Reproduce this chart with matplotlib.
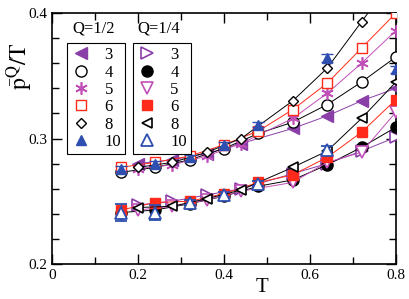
import numpy as np
import matplotlib.pyplot as plt
from matplotlib.lines import Line2D

plt.rcParams['font.family'] = ['Liberation Serif', 'DejaVu Serif']
plt.rcParams['mathtext.fontset'] = 'stix'

# Q=1/2 (upper branch)
T_a = [0.20, 0.28, 0.36, 0.44, 0.56, 0.64, 0.72, 0.80]
T_b = [0.16, 0.24, 0.32, 0.40, 0.48, 0.56, 0.64, 0.72, 0.80]
T_c = [0.16, 0.24, 0.32, 0.40, 0.48, 0.64, 0.80]

h3 = [0.280, 0.283, 0.288, 0.296, 0.308, 0.318, 0.330, 0.340]
h4 = [0.273, 0.277, 0.283, 0.292, 0.304, 0.313, 0.327, 0.345, 0.365]
h5 = [0.276, 0.279, 0.286, 0.296, 0.316, 0.336, 0.360, 0.386]
h6 = [0.277, 0.281, 0.286, 0.295, 0.306, 0.323, 0.344, 0.372, 0.400]
h8 = [0.277, 0.281, 0.289, 0.300, 0.330, 0.356, 0.393, 0.430]
h10 = [0.276, 0.280, 0.285, 0.295, 0.311, 0.364, 0.355]
h10_err = [0.002, 0.002, 0.002, 0.002, 0.002, 0.003, 0.003]

# Q=1/4 (lower branch)
q3 = [0.247, 0.250, 0.255, 0.260, 0.272, 0.280, 0.290, 0.301]
q4 = [0.241, 0.243, 0.248, 0.254, 0.262, 0.267, 0.279, 0.293, 0.309]
q5 = [0.243, 0.246, 0.251, 0.258, 0.265, 0.281, 0.289, 0.321]
q6 = [0.243, 0.249, 0.250, 0.256, 0.265, 0.271, 0.285, 0.305, 0.331]
q8 = [0.245, 0.246, 0.252, 0.259, 0.277, 0.290, 0.316, 0.345]
q10 = [0.241, 0.241, 0.249, 0.255, 0.264, 0.291]
q10_err = [0.007, 0.006, 0.002, 0.002, 0.002, 0.003]

sizes = ['3', '4', '5', '6', '8', '10']

purple = '#8a3fa8'
orchid = '#c050b8'
red = '#ff2a1a'
blue = '#2f4fb0'

fig = plt.figure(figsize=(4.09, 2.99), dpi=100)
ax = fig.add_axes([0.127, 0.117, 0.841, 0.8395])

lw = 0.7
# upper
up = [
    (T_a, h3, dict(marker='<', color=purple, mfc=purple, ms=8)),
    (T_b, h4, dict(marker='o', color='k', mfc='white', ms=8)),
    (T_a, h5, dict(marker=(6, 2, 0), color=orchid, mfc=orchid, ms=9, mew=1.2)),
    (T_b, h6, dict(marker='s', color=red, mfc='white', ms=7)),
    (T_a, h8, dict(marker='D', color='k', mfc='white', ms=5)),
]
for t, v, st in up:
    ax.plot(t, v, lw=lw, zorder=3, **st)
ax.errorbar(T_c, h10, yerr=h10_err, fmt='^', color=blue, mfc=blue, ms=7,
            capsize=4, elinewidth=1, zorder=4)

low = [
    (T_a, q3, dict(marker='>', color=purple, mfc='white', ms=8, mew=1.2)),
    (T_b, q4, dict(marker='o', color='k', mfc='k', ms=8)),
    (T_a, q5, dict(marker='v', color=orchid, mfc='white', ms=8, mew=1.2)),
    (T_b, q6, dict(marker='s', color=red, mfc=red, ms=7)),
    (T_a, q8, dict(marker='<', color='k', mfc='white', ms=7, mew=1.2)),
]
for t, v, st in low:
    ax.plot(t, v, lw=lw, zorder=3, **st)
ax.errorbar(T_c[:6], q10, yerr=q10_err, fmt='^', color=blue, mfc='white', ms=8,
            mew=1.3, capsize=4, elinewidth=1, zorder=4)

ax.set_xlim(0, 0.8)
ax.set_ylim(0.2, 0.4)
ax.set_xticks([0, 0.2, 0.4, 0.6, 0.8])
ax.set_xticklabels(['0', '0.2', '0.4', '0.6', '0.8'])
ax.set_xticks(np.arange(0.1, 0.8, 0.2), minor=True)
ax.set_yticks([0.2, 0.3, 0.4])
ax.set_yticks(np.arange(0.22, 0.4, 0.02), minor=True)
ax.tick_params(which='both', direction='in', top=True, right=True, labelsize=11, width=1)
ax.tick_params(which='major', length=7)
ax.tick_params(which='minor', length=5)
for s in ax.spines.values():
    s.set_linewidth(1.2)

ax.set_xlabel('T', fontsize=15, va='top')
ax.xaxis.set_label_coords(0.61, -0.055)
ax.set_ylabel(r'$\mathrm{\bar{p}^{Q}/T}$', fontsize=17)
ax.yaxis.set_label_coords(-0.05, 0.79)

# legends
h_up = [Line2D([], [], ls='none', **st) for _, _, st in up]
h_up.append(Line2D([], [], ls='none', marker='^', color=blue, mfc=blue, ms=7))
h_low = [Line2D([], [], ls='none', **st) for _, _, st in low]
h_low.append(Line2D([], [], ls='none', marker='^', color=blue, mfc='white', ms=8, mew=1.3))

kw = dict(fontsize=12, handlelength=1.2, handletextpad=0.8, labelspacing=0.08,
          borderpad=0.25, borderaxespad=0, fancybox=False, edgecolor='k', framealpha=1)
leg1 = ax.legend(h_up, sizes, loc='upper left', bbox_to_anchor=(0.044, 0.88), **kw)
leg1.get_frame().set_linewidth(0.8)
ax.add_artist(leg1)
leg2 = ax.legend(h_low, sizes, loc='upper left', bbox_to_anchor=(0.235, 0.88), **kw)
leg2.get_frame().set_linewidth(0.8)
ax.text(0.058, 0.905, 'Q=1/2', transform=ax.transAxes, fontsize=12, va='bottom')
ax.text(0.247, 0.905, 'Q=1/4', transform=ax.transAxes, fontsize=12, va='bottom')

fig.savefig('out.png', dpi=100)
